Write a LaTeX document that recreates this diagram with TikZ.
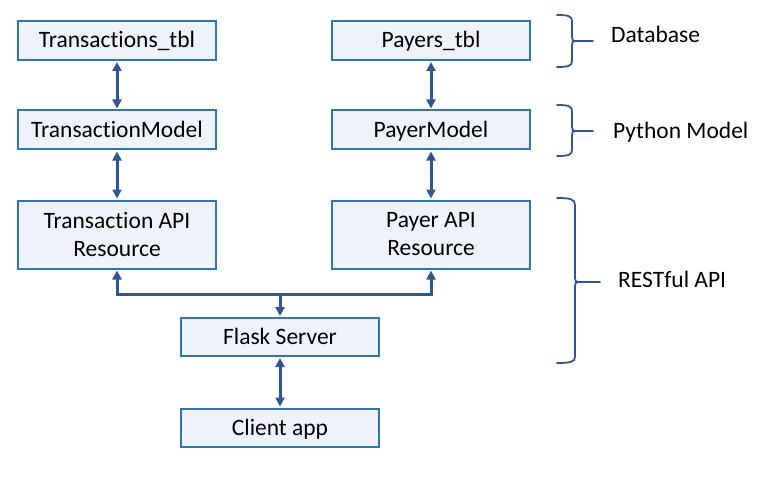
\documentclass[tikz,border=0pt]{standalone}
\usepackage{fontspec}
\setmainfont{Carlito}[Ligatures=NoCommon]
\usetikzlibrary{arrows.meta}
\definecolor{boxfill}{HTML}{EEF3FB}
\definecolor{boxdraw}{HTML}{2E75B6}
\definecolor{arrcol}{HTML}{2F5597}
\definecolor{bracecol}{HTML}{2F5597}
\begin{document}
\begin{tikzpicture}[x=1pt,y=-1pt,
  box/.style={draw=boxdraw, line width=2pt, fill=boxfill, minimum width=198pt,
    inner sep=0pt, align=center, font=\fontsize{23.5}{28}\selectfont},
  onebox/.style={box, text height=20pt, text depth=5pt},
  link/.style={draw=arrcol, line width=3pt, {Triangle[length=9pt,width=9pt]}-{Triangle[length=9pt,width=9pt]}, shorten <=1pt, shorten >=1pt},
  uplink/.style={draw=arrcol, line width=3pt, -{Triangle[length=9pt,width=9pt]}, shorten >=1pt},
  brace/.style={draw=bracecol, line width=1.8pt, line cap=round},
  lbl/.style={anchor=base west, inner sep=0pt, font=\fontsize{23.5}{28}\selectfont}]
\useasboundingbox (0,0) rectangle (779,492);

\node[onebox, minimum height=39pt] (ttbl) at (117,40.5) {Transactions\_tbl};
\node[onebox, minimum height=39pt] (tmod) at (117,130) {TransactionModel};
\node[box, minimum height=68pt] (tapi) at (117,234.5) {Transaction API\\Resource};
\node[onebox, minimum height=39pt] (ptbl) at (431,40.5) {Payers\_tbl};
\node[onebox, minimum height=39pt] (pmod) at (431,130) {PayerModel};
\node[box, minimum height=68pt] (papi) at (431,234.5) {Payer API\\Resource};
\node[onebox, minimum height=38pt] (flask) at (280,337) {Flask Server};
\node[onebox, minimum height=38pt] (client) at (280,427.5) {Client app};

\draw[link] (ttbl) -- (tmod);
\draw[link] (tmod) -- (tapi);
\draw[link] (ptbl) -- (pmod);
\draw[link] (pmod) -- (papi);
\draw[link] (flask) -- (client);
\coordinate (bus) at (280,294);
\draw[link] (tapi.south) |- (bus) -| (papi.south);
\draw[uplink] (bus) -- (flask.north);

% braces
\draw[brace] (557,15) .. controls (568,15) and (572,16) .. (572,21) -- (572,37)
  .. controls (572,40) and (573,41) .. (575,41) .. controls (573,41) and (572,42) .. (572,45)
  -- (572,61) .. controls (572,66) and (568,67) .. (557,67);
\draw[brace] (575,41) -- (593,41);
\draw[brace] (557,105) .. controls (568,105) and (572,106) .. (572,111) -- (572,127)
  .. controls (572,130) and (573,131) .. (575,131) .. controls (573,131) and (572,132) .. (572,135)
  -- (572,150) .. controls (572,155) and (568,156) .. (557,156);
\draw[brace] (575,131) -- (593,131);
\draw[brace] (557,198) .. controls (570,198) and (575,199) .. (575,205) -- (575,278)
  .. controls (575,281) and (576,282) .. (578,282) .. controls (576,282) and (575,283) .. (575,286)
  -- (575,357) .. controls (575,362) and (570,363) .. (557,363);
\draw[brace] (578,282) -- (600,282);

\node[lbl] (db) at (611,43) {Database};
\node[lbl] (pm) at (613,138.5) {Python Model};
\node[lbl] (ra) at (618,287.5) {RESTful API};
\end{tikzpicture}
\end{document}
